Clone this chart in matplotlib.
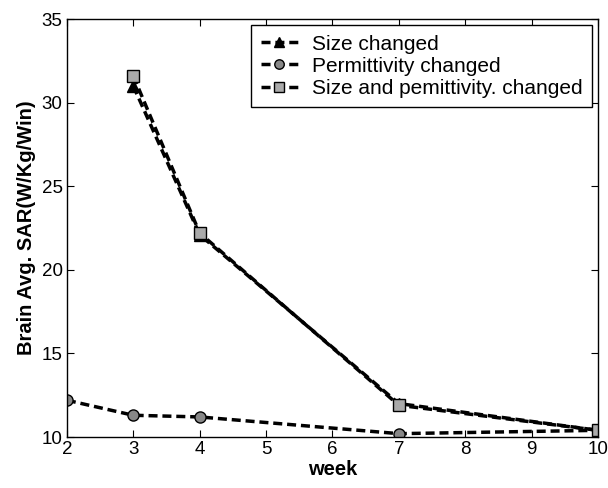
import matplotlib
matplotlib.use("Agg")
import matplotlib.pyplot as plt

plt.rcParams['font.family'] = ['Liberation Sans', 'DejaVu Sans']

weeks_size = [3, 4, 7, 10]
size_changed = [31.0, 22.1, 12.0, 10.4]

weeks_perm = [2, 3, 4, 7, 10]
perm_changed = [12.2, 11.3, 11.2, 10.2, 10.4]

weeks_both = [3, 4, 7, 10]
both_changed = [31.6, 22.2, 11.9, 10.4]

labels = ['Size changed', 'Permittivity changed', 'Size and pemittivity. changed']
xticks = [2, 3, 4, 5, 6, 7, 8, 9, 10]
yticks = [10, 15, 20, 25, 30, 35]

fig = plt.figure(figsize=(6.08, 4.88), dpi=100)
ax = fig.add_axes([0.110, 0.1045, 0.8736, 0.8565])

ax.plot(weeks_size, size_changed, linestyle='--', color='black', linewidth=2.5,
        marker='^', markersize=8, markerfacecolor='black', markeredgecolor='black',
        label=labels[0], dashes=(2.6, 1.4))
ax.plot(weeks_perm, perm_changed, linestyle='--', color='black', linewidth=2.5,
        marker='o', markersize=8, markerfacecolor='#888888', markeredgecolor='black',
        label=labels[1], dashes=(2.6, 1.4))
ax.plot(weeks_both, both_changed, linestyle='--', color='black', linewidth=2.5,
        marker='s', markersize=8, markerfacecolor='#aaaaaa', markeredgecolor='black',
        label=labels[2], dashes=(2.6, 1.4))

ax.set_xlim(2, 10)
ax.set_ylim(10, 35)
ax.set_xticks(xticks)
ax.set_yticks(yticks)
ax.tick_params(direction='in', labelsize=13.5, length=5, top=True, right=True, pad=3)
for s in ax.spines.values():
    s.set_linewidth(1.0)

ax.set_xlabel('week', fontsize=14.5, fontweight='bold', labelpad=1)
ax.set_ylabel('Brain Avg. SAR(W/Kg/Win)', fontsize=14.5, fontweight='bold', labelpad=4)

leg = ax.legend(loc='upper right', fontsize=15, frameon=True, fancybox=False,
                edgecolor='black', framealpha=1, handlelength=1.8, markerscale=0.85,
                borderaxespad=0.3, labelspacing=0.15, handletextpad=0.65,
                borderpad=0.45)
leg.get_frame().set_linewidth(1.0)

fig.savefig('out.png', dpi=100)
